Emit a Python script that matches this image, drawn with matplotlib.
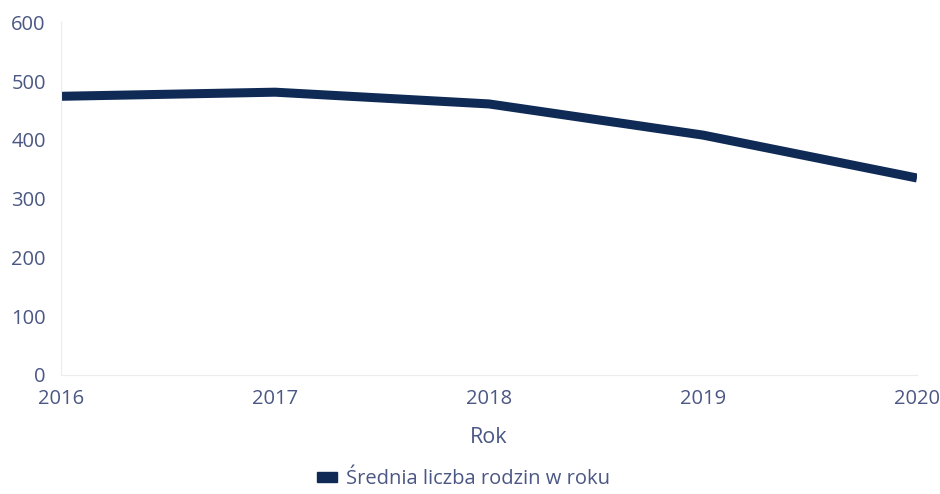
import matplotlib.pyplot as plt
from matplotlib.patches import Patch

plt.rcParams['font.family'] = ['Open Sans', 'DejaVu Sans']

years = [2016, 2017, 2018, 2019, 2020]
families = [474, 481, 461, 408, 335]
y_ticks = [0, 100, 200, 300, 400, 500, 600]

navy = '#0f2a55'
label_col = '#4b5784'

fig = plt.figure(figsize=(9.4, 4.94), dpi=100)
ax = fig.add_axes([0.065, 0.241, 0.9105, 0.714])

ax.plot(years, families, color=navy, lw=6.5, solid_capstyle='butt', solid_joinstyle='round')

ax.set_xlim(2016, 2020)
ax.set_ylim(0, 600)
ax.set_xticks(years)
ax.set_yticks(y_ticks)
ax.tick_params(length=0, labelsize=14.5, colors=label_col)
ax.tick_params(axis='y', pad=11)
ax.tick_params(axis='x', pad=10)

for side in ['top', 'right']:
    ax.spines[side].set_visible(False)
ax.spines['left'].set_color('#ececec')
ax.spines['bottom'].set_color('#ececec')

ax.set_xlabel('Rok', fontsize=15.5, color=label_col, labelpad=13)

handle = Patch(facecolor=navy, edgecolor=navy)
fig.legend([handle], ['Średnia liczba rodzin w roku'], loc='center',
           bbox_to_anchor=(0.493, 0.03), frameon=False, fontsize=14.5,
           labelcolor=label_col, handlelength=1.0, handleheight=0.45,
           handletextpad=0.4, borderpad=0)

fig.savefig('out.png', dpi=100)
